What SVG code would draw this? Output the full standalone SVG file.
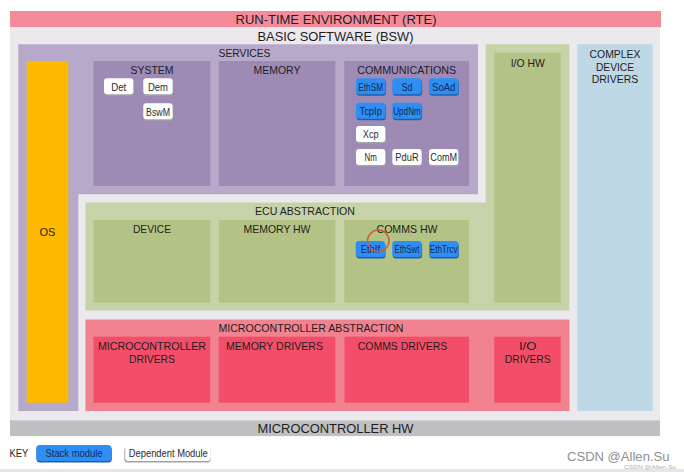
<svg xmlns="http://www.w3.org/2000/svg" width="684" height="472" viewBox="0 0 684 472">
<defs>
<style>
.t{font-family:"Liberation Sans",Arial,sans-serif;fill:#1e1e1e;text-anchor:middle;dominant-baseline:central}
.h13{font-size:13px}
.h10{font-size:11px}
.bt{font-family:"Liberation Sans",Arial,sans-serif;font-size:10.5px;text-anchor:middle;dominant-baseline:central}
.bb{fill:#2f8ef4}
.bbs{fill:#1d5fae}
.bbt{fill:#0f2a57}
.wb{fill:#ffffff}
.wbs{fill:#a3a3a6}
.wbt{fill:#2a2a2a}
.svc{fill:#b6a9c9}
.svci{fill:#9d8bb6}
.ecu{fill:#c6d3a9}
.ecui{fill:#b2c385}
.mca{fill:#f1828f}
.mcai{fill:#f34e69}
</style>
</defs>
<rect x="0" y="0" width="684" height="472" fill="#ffffff"/>
<rect x="0" y="469" width="684" height="3" fill="#e6e6e8"/>

<g id="rte">
<rect x="10" y="11" width="651" height="16.3" fill="#f38b9b"/>
<text class="t h13" x="336" y="19.5" textLength="201" lengthAdjust="spacingAndGlyphs">RUN-TIME ENVIRONMENT (RTE)</text>
</g>

<g id="bsw">
<rect x="10" y="27.3" width="650" height="393" fill="#ebe9ee"/>
<text class="t h13" x="335.5" y="36" textLength="156" lengthAdjust="spacingAndGlyphs">BASIC SOFTWARE (BSW)</text>
</g>

<g id="services">
<path class="svc" d="M18.3 44.3H478V194.3H78.3V411H18.3Z"/>
<text class="t h10" x="244.5" y="52.5" textLength="52" lengthAdjust="spacingAndGlyphs">SERVICES</text>
</g>

<g id="os">
<rect x="26.7" y="61" width="41.6" height="341.7" fill="#ffb900"/>
<text class="t h10" x="47.5" y="231.5">OS</text>
</g>

<g id="system">
<rect class="svci" x="93.5" y="61" width="116.7" height="125"/>
<text class="t h10" x="152" y="70" textLength="43" lengthAdjust="spacingAndGlyphs">SYSTEM</text>
<g id="det"><rect class="wbs" x="104.5" y="79.8" width="29.3" height="16" rx="3"/><rect class="wb" x="104" y="78.3" width="29.3" height="16" rx="3"/><text class="bt wbt" x="118.7" y="86.5" textLength="15" lengthAdjust="spacingAndGlyphs">Det</text></g>
<g id="dem"><rect class="wbs" x="143.8" y="79.8" width="29.3" height="16" rx="3"/><rect class="wb" x="143.3" y="78.3" width="29.3" height="16" rx="3"/><text class="bt wbt" x="158" y="86.5" textLength="20" lengthAdjust="spacingAndGlyphs">Dem</text></g>
<g id="bswm"><rect class="wbs" x="143.8" y="104.8" width="29.3" height="16" rx="3"/><rect class="wb" x="143.3" y="103.3" width="29.3" height="16" rx="3"/><text class="bt wbt" x="158" y="111.5" textLength="24" lengthAdjust="spacingAndGlyphs">BswM</text></g>
</g>

<g id="memory">
<rect class="svci" x="218.8" y="61" width="116.5" height="125"/>
<text class="t h10" x="277" y="70" textLength="47" lengthAdjust="spacingAndGlyphs">MEMORY</text>
</g>

<g id="communications">
<rect class="svci" x="344.3" y="61" width="124.7" height="125"/>
<text class="t h10" x="406.7" y="70" textLength="99" lengthAdjust="spacingAndGlyphs">COMMUNICATIONS</text>
<g id="ethsm"><rect class="bbs" x="356.5" y="79.8" width="29.3" height="16" rx="3"/><rect class="bb" x="356" y="78.3" width="29.3" height="16" rx="3"/><text class="bt bbt" x="370.7" y="86.5" textLength="24.7" lengthAdjust="spacingAndGlyphs">EthSM</text></g>
<g id="sd"><rect class="bbs" x="392.8" y="79.8" width="29.3" height="16" rx="3"/><rect class="bb" x="392.3" y="78.3" width="29.3" height="16" rx="3"/><text class="bt bbt" x="407" y="86.5" textLength="11" lengthAdjust="spacingAndGlyphs">Sd</text></g>
<g id="soad"><rect class="bbs" x="429.5" y="79.8" width="29.3" height="16" rx="3"/><rect class="bb" x="429" y="78.3" width="29.3" height="16" rx="3"/><text class="bt bbt" x="443.7" y="86.5" textLength="23.3" lengthAdjust="spacingAndGlyphs">SoAd</text></g>
<g id="tcpip"><rect class="bbs" x="356.5" y="104.2" width="29.3" height="16" rx="3"/><rect class="bb" x="356" y="102.7" width="29.3" height="16" rx="3"/><text class="bt bbt" x="370.7" y="110.9" textLength="22.4" lengthAdjust="spacingAndGlyphs">TcpIp</text></g>
<g id="updnm"><rect class="bbs" x="392.8" y="104.2" width="29.3" height="16" rx="3"/><rect class="bb" x="392.3" y="102.7" width="29.3" height="16" rx="3"/><text class="bt bbt" x="407" y="110.9" textLength="27.7" lengthAdjust="spacingAndGlyphs">UpdNm</text></g>
<g id="xcp"><rect class="wbs" x="356.5" y="127.5" width="29.3" height="16" rx="3"/><rect class="wb" x="356" y="126" width="29.3" height="16" rx="3"/><text class="bt wbt" x="370.7" y="134.2" textLength="15.7" lengthAdjust="spacingAndGlyphs">Xcp</text></g>
<g id="nm"><rect class="wbs" x="356.5" y="150.5" width="29.3" height="16" rx="3"/><rect class="wb" x="356" y="149" width="29.3" height="16" rx="3"/><text class="bt wbt" x="370.7" y="157.2" textLength="12.3" lengthAdjust="spacingAndGlyphs">Nm</text></g>
<g id="pdur"><rect class="wbs" x="392.8" y="150.5" width="29.3" height="16" rx="3"/><rect class="wb" x="392.3" y="149" width="29.3" height="16" rx="3"/><text class="bt wbt" x="407" y="157.2" textLength="23.3" lengthAdjust="spacingAndGlyphs">PduR</text></g>
<g id="comm"><rect class="wbs" x="429.5" y="150.5" width="29.3" height="16" rx="3"/><rect class="wb" x="429" y="149" width="29.3" height="16" rx="3"/><text class="bt wbt" x="443.7" y="157.2" textLength="26.7" lengthAdjust="spacingAndGlyphs">ComM</text></g>
</g>

<g id="ecu-abstraction">
<path class="ecu" d="M485.7 44.3H569.3V310.5H85.5V202.5H485.7Z"/>
<text class="t h10" x="305" y="210.7" textLength="100" lengthAdjust="spacingAndGlyphs">ECU ABSTRACTION</text>
</g>

<g id="io-hw">
<rect class="ecui" x="494.2" y="52.7" width="66.5" height="250"/>
<text class="t h10" x="527.7" y="63" textLength="34" lengthAdjust="spacingAndGlyphs">I/O HW</text>
</g>

<g id="device">
<rect class="ecui" x="93.5" y="220" width="116.7" height="82.7"/>
<text class="t h10" x="152" y="228.5" textLength="38" lengthAdjust="spacingAndGlyphs">DEVICE</text>
</g>

<g id="memory-hw">
<rect class="ecui" x="218.8" y="220" width="116.5" height="82.7"/>
<text class="t h10" x="277" y="228.5" textLength="67" lengthAdjust="spacingAndGlyphs">MEMORY HW</text>
</g>

<g id="comms-hw">
<rect class="ecui" x="344.3" y="220" width="124.7" height="82.7"/>
<text class="t h10" x="407" y="228.5" textLength="61" lengthAdjust="spacingAndGlyphs">COMMS HW</text>
<g id="ethif"><rect class="bbs" x="356.2" y="242.5" width="29.3" height="16" rx="3"/><rect class="bb" x="355.7" y="241" width="29.3" height="16" rx="3"/><text class="bt bbt" x="370.4" y="249.2" textLength="19.3" lengthAdjust="spacingAndGlyphs">EthIf</text></g>
<g id="ethswt"><rect class="bbs" x="392.8" y="242.5" width="29.3" height="16" rx="3"/><rect class="bb" x="392.3" y="241" width="29.3" height="16" rx="3"/><text class="bt bbt" x="407" y="249.2" textLength="25" lengthAdjust="spacingAndGlyphs">EthSwt</text></g>
<g id="ethtrcv"><rect class="bbs" x="429.5" y="242.5" width="29.3" height="16" rx="3"/><rect class="bb" x="429" y="241" width="29.3" height="16" rx="3"/><text class="bt bbt" x="443.7" y="249.2" textLength="27.7" lengthAdjust="spacingAndGlyphs">EthTrcv</text></g>
<circle cx="378.3" cy="240.8" r="10.8" fill="none" stroke="#cf5a3c" stroke-width="1.4"/>
</g>

<g id="complex-device-drivers">
<rect x="577.3" y="44.3" width="75.4" height="366.7" fill="#bed9e5"/>
<text class="t h10" x="615" y="54.3" textLength="51" lengthAdjust="spacingAndGlyphs">COMPLEX</text>
<text class="t h10" x="615" y="66.8" textLength="38" lengthAdjust="spacingAndGlyphs">DEVICE</text>
<text class="t h10" x="615" y="79.3" textLength="46.6" lengthAdjust="spacingAndGlyphs">DRIVERS</text>
</g>

<g id="microcontroller-abstraction">
<rect class="mca" x="85.5" y="319.5" width="484" height="91.5"/>
<text class="t h10" x="311" y="327.5" textLength="185" lengthAdjust="spacingAndGlyphs">MICROCONTROLLER ABSTRACTION</text>
</g>

<g id="microcontroller-drivers">
<rect class="mcai" x="93.5" y="336.7" width="116.7" height="66"/>
<text class="t h10" x="152" y="346" textLength="108" lengthAdjust="spacingAndGlyphs">MICROCONTROLLER</text>
<text class="t h10" x="152" y="358.7" textLength="46" lengthAdjust="spacingAndGlyphs">DRIVERS</text>
</g>

<g id="memory-drivers">
<rect class="mcai" x="218.8" y="336.7" width="116.5" height="66"/>
<text class="t h10" x="274.5" y="345.5" textLength="97" lengthAdjust="spacingAndGlyphs">MEMORY DRIVERS</text>
</g>

<g id="comms-drivers">
<rect class="mcai" x="344.5" y="336.7" width="124.5" height="66"/>
<text class="t h10" x="402.5" y="345.5" textLength="89.4" lengthAdjust="spacingAndGlyphs">COMMS DRIVERS</text>
</g>

<g id="io-drivers">
<rect class="mcai" x="494.2" y="336.7" width="66.5" height="66"/>
<text class="t h10" x="527.7" y="346" textLength="17.5" lengthAdjust="spacingAndGlyphs">I/O</text>
<text class="t h10" x="527.7" y="358.7" textLength="46" lengthAdjust="spacingAndGlyphs">DRIVERS</text>
</g>

<g id="microcontroller-hw">
<rect x="10" y="420.3" width="650" height="15.8" fill="#c0bfc2"/>
<text class="t h13" x="335.5" y="428" textLength="156" lengthAdjust="spacingAndGlyphs">MICROCONTROLLER HW</text>
</g>

<g id="key">
<text class="t" x="19" y="453.3" font-size="10" textLength="18.8" lengthAdjust="spacingAndGlyphs">KEY</text>
<g id="key-stack"><rect class="bbs" x="36.5" y="446.5" width="75.3" height="16" rx="3.5"/><rect class="bb" x="36.2" y="445" width="75.3" height="16" rx="3.5"/><text class="bt bbt" x="74" y="453" textLength="57" lengthAdjust="spacingAndGlyphs">Stack module</text></g>
<g id="key-dependent"><rect class="wbs" x="124.3" y="447.5" width="86.3" height="15" rx="3"/><rect class="wb" x="125.3" y="446.5" width="85.3" height="14.5" rx="3"/><text class="bt wbt" x="168.3" y="453.3" textLength="79" lengthAdjust="spacingAndGlyphs">Dependent Module</text></g>
</g>

<g id="watermark">
<text x="567" y="461" font-family="'Liberation Sans',Arial,sans-serif" font-size="13" fill="#8e8e90" textLength="102.5" lengthAdjust="spacingAndGlyphs">CSDN @Allen.Su</text>
<text x="624" y="468.5" font-family="'Liberation Sans',Arial,sans-serif" font-size="5.5" fill="#b0b0b2" textLength="52" lengthAdjust="spacingAndGlyphs">CSDN @Allen.Su</text>
</g>
</svg>
